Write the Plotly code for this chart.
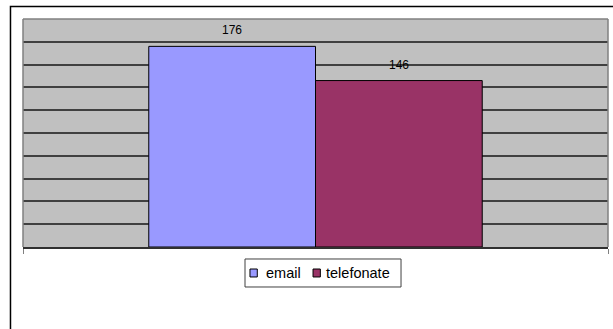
import plotly.graph_objects as go

# Contact counts by channel
series = ["email", "telefonate"]
values = [176, 146]
colors = ["#9999FF", "#993366"]
category = [""]

fig = go.Figure()
for name, val, col in zip(series, values, colors):
    fig.add_trace(go.Bar(
        x=category, y=[val], name=name,
        marker=dict(color=col, line=dict(color="black", width=1)),
        offsetgroup=name,
    ))

fig.update_layout(
    width=613, height=329,
    margin=dict(l=23, r=5, t=19, b=82),
    paper_bgcolor="white", plot_bgcolor="#C0C0C0",
    barmode="group", bargap=0.43, bargroupgap=0,
    font=dict(family="Arial, Liberation Sans", size=12, color="black"),
    showlegend=False,
)
fig.update_xaxes(
    showticklabels=False, showgrid=False,
    showline=True, linecolor="#303030", linewidth=1.5,
    ticks="outside", tickson="boundaries", ticklen=5, tickcolor="#808080",
)
fig.update_yaxes(
    range=[0, 200], dtick=20, showticklabels=False,
    showgrid=True, gridcolor="#404040", gridwidth=1.5, zeroline=False,
)

# value labels above each bar (bars sit at x = 0 -/+ quarter of the group width)
group_w = 1 - 0.43
for i, (name, val) in enumerate(zip(series, values)):
    xc = (i - 0.5) * group_w / 2
    fig.add_annotation(x=xc, y=val, xref="x", yref="y", text=str(val),
                       showarrow=False, yanchor="bottom", yshift=7,
                       font=dict(family="Arial, Liberation Sans", size=12, color="black"))

# legend box with swatches
fig.add_shape(type="rect", xref="paper", yref="paper",
              x0=0.3795, x1=0.6462, y0=-0.1754, y1=-0.0526,
              line=dict(color="#404040", width=1), fillcolor="white")
swatch_x = [0.3880, 0.4958]
text_x = [0.4125, 0.5145]
for name, col, sx, tx in zip(series, colors, swatch_x, text_x):
    fig.add_shape(type="rect", xref="paper", yref="paper",
                  x0=sx, x1=sx + 0.0125, y0=-0.1315, y1=-0.0965,
                  line=dict(color="black", width=1), fillcolor=col)
    fig.add_annotation(x=tx, y=-0.114, xref="paper", yref="paper", text=name,
                       showarrow=False, xanchor="left", yanchor="middle",
                       font=dict(family="Arial, Liberation Sans", size=14.5, color="black"))

# plot-area edge and outer chart frame
for x0, x1, y0, y1 in [(0, 1, 1, 1), (0, 0, 0, 1), (1, 1, 0, 1)]:
    fig.add_shape(type="line", xref="paper", yref="paper", x0=x0, x1=x1, y0=y0, y1=y1,
                  line=dict(color="#808080", width=1.5))
fig.add_shape(type="rect", xref="paper", yref="paper",
              x0=-0.0214, x1=1.2, y0=-0.6, y1=1.0548,
              line=dict(color="black", width=1.5), layer="below")

fig.write_html("out.html")
